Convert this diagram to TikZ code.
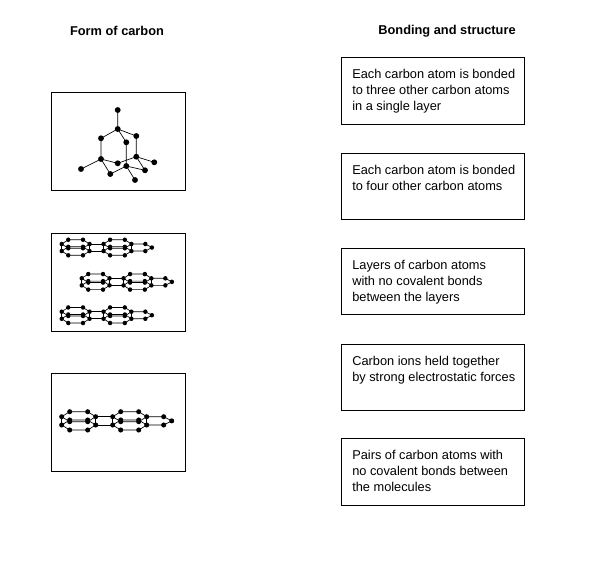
\documentclass[tikz,border=0pt]{standalone}
\usepackage{fontspec}
\setmainfont{Liberation Sans}
\begin{document}
\begin{tikzpicture}[x=0.75pt,y=-0.75pt,
  box/.style={draw,line width=0.6pt,anchor=north west,minimum width=183*0.75pt,inner sep=0pt},
  txt/.style={anchor=north west,align=left,inner sep=0pt,font=\fontsize{9.6}{12}\selectfont},
  frame/.style={draw,line width=0.6pt},
  bond/.style={line width=0.5pt},
  head/.style={font=\bfseries\fontsize{9.6}{12}\selectfont},
  dot/.store in=\dotr, dot=1.7pt,
  layer/.pic={
    \foreach \d in {0,8.3}{
      \draw[bond] (0,\d)--(8,\d-5)--(26,\d-5)--(34,\d)--(26,\d+5)--(8,\d+5)--cycle;
      \draw[bond] (34,\d)--(51,\d);
      \draw[bond] (51,\d)--(59,\d-5)--(77,\d-5)--(85,\d)--(77,\d+5)--(59,\d+5)--cycle;
      \draw[bond] (85,\d)--(102,\d)--(110,4.15);
      \foreach \p in {(0,\d),(8,\d-5),(26,\d-5),(34,\d),(26,\d+5),(8,\d+5),(51,\d),(59,\d-5),(77,\d-5),(85,\d),(77,\d+5),(59,\d+5),(102,\d)}
        \fill \p circle (\dotr);
    }
    \foreach \x in {0,34,51,85} \draw[bond] (\x,0)--(\x,8.3);
    \fill (110,4.15) circle (\dotr);
  }]
\useasboundingbox (0,0) rectangle (606,576);
\node[head] (h1) at (117,31) {Form of carbon};
\node[head] (h2) at (447,31) {Bonding and structure};
% left frames
\draw[frame] (51,92) rectangle (185,190);
\draw[frame] (51,233) rectangle (185,331);
\draw[frame] (51,373) rectangle (185,471);
% diamond
\coordinate (ct) at (117.7,110);
\coordinate (ca) at (117.7,129);
\coordinate (cb) at (101,138.3);
\coordinate (cc) at (136.3,136);
\coordinate (cd) at (126.3,142.3);
\coordinate (ce) at (101,159);
\coordinate (cf) at (117.7,163.3);
\coordinate (cg) at (136.3,156.7);
\coordinate (ch) at (126.3,166);
\coordinate (ci) at (154.3,162.3);
\coordinate (cj) at (81,169);
\coordinate (ck) at (110.3,174);
\coordinate (cl) at (145,170.3);
\coordinate (cm) at (135,180);
\draw[bond] (ct)--(ca) (ca)--(cb) (ca)--(cc) (ca)--(cd) (cb)--(ce) (cc)--(cg) (cd)--(ch)
  (ce)--(cf) (cf)--(cg) (ce)--(cj) (ce)--(ck) (cg)--(ci) (cg)--(cl) (ch)--(ck) (ch)--(cl) (ch)--(cm);
\foreach \n in {ct,ca,cb,cc,cd,ce,cf,cg,ch,ci,cj,ck,cl,cm} \fill (\n) circle (2.2pt);
% graphite
\pic[xscale=0.82,yscale=0.85,dot=2pt] at (61.7,244) {layer};
\pic[xscale=0.82,yscale=0.85,dot=2pt] at (81.7,278.3) {layer};
\pic[xscale=0.82,yscale=0.85,dot=2pt] at (61.7,311.7) {layer};
% single layer
\pic[dot=1.9pt] at (61.7,416.7) {layer};
% right boxes
\node[box,minimum height=67*0.75pt] (r1) at (341,57) {};
\node[txt] (t1) at (352,69) {Each carbon atom is bonded\\to three other carbon atoms\\in a single layer};
\node[box,minimum height=66*0.75pt] (r2) at (341,153) {};
\node[txt] (t2) at (352,165) {Each carbon atom is bonded\\to four other carbon atoms};
\node[box,minimum height=66*0.75pt] (r3) at (341,248) {};
\node[txt] (t3) at (352,260) {Layers of carbon atoms\\with no covalent bonds\\between the layers};
\node[box,minimum height=66*0.75pt] (r4) at (341,344) {};
\node[txt] (t4) at (352,356) {Carbon ions held together\\by strong electrostatic forces};
\node[box,minimum height=67*0.75pt] (r5) at (341,438) {};
\node[txt] (t5) at (352,450) {Pairs of carbon atoms with\\no covalent bonds between\\the molecules};
\end{tikzpicture}
\end{document}
